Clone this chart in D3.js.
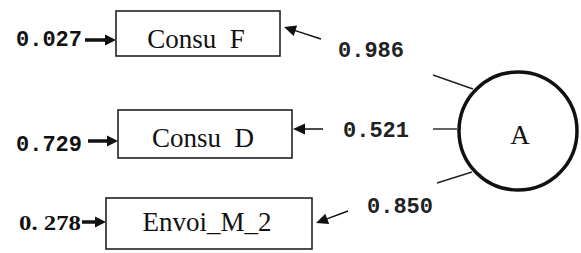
<!DOCTYPE html>
<html>
<head>
<meta charset="utf-8">
<script src="https://cdn.jsdelivr.net/npm/d3@7"></script>
<style>
  html, body { margin: 0; padding: 0; background: #fff; }
  svg { display: block; }
  .box-label { font-family: "Liberation Serif", serif; font-size: 27px; fill: #111; }
  .err { font-family: "Liberation Mono", monospace; font-weight: bold; font-size: 22px; fill: #111; }
  .err.serif { font-family: "Liberation Serif", serif; }
  .load { font-family: "Liberation Mono", monospace; font-weight: bold; font-size: 22px; fill: #222; }
</style>
</head>
<body>
<svg id="svg"></svg>
<script>
  // values
  var indicators = ["Consu\u2002F", "Consu\u2002D", "Envoi_M_2"];
  var errors = ["0.027", "0.729", "0.278"];
  var loadings = ["0.986", "0.521", "0.850"];
  var factor = "A";

  var W = 581, H = 253;
  var svg = d3.select("#svg").attr("width", W).attr("height", H);
  svg.append("rect").attr("width", W).attr("height", H).attr("fill", "#fff");

  // layout of the diagram (one entry per indicator)
  var layout = [
    { x: 116, y: 11, w: 164, h: 45, tb: 48, ey: 40, ex0: 85, eb: 46, etx: 16,
      ax0: 321, ay0: 39, ax1: 284, ay1: 27, lx: 338, lb: 57,
      c0: [433, 75], c1: [473, 89] },
    { x: 118, y: 110, w: 174, h: 48, tb: 147, ey: 141, ex0: 88, eb: 151, etx: 16,
      ax0: 323, ay0: 129, ax1: 293, ay1: 129, lx: 343, lb: 137,
      c0: [433, 129], c1: [457, 129] },
    { x: 106, y: 198, w: 206, h: 51, tb: 231, ey: 222, ex0: 82, eb: 230, etx: 19,
      ax0: 348, ay0: 211, ax1: 316, ay1: 223, lx: 367, lb: 213,
      c0: [437, 183], c1: [472, 172] }
  ];
  var circle = { cx: 518, cy: 131, r: 59 };

  var rows = d3.range(indicators.length);

  function arrow(g, x0, y0, x1, y1, sw, hl, hw) {
    var dx = x1 - x0, dy = y1 - y0, len = Math.sqrt(dx * dx + dy * dy);
    var ux = dx / len, uy = dy / len;
    var bx = x1 - ux * hl, by = y1 - uy * hl;
    g.append("line")
      .attr("x1", x0).attr("y1", y0).attr("x2", bx + ux * 1).attr("y2", by + uy * 1)
      .attr("stroke", "#111").attr("stroke-width", sw);
    g.append("path")
      .attr("d", "M" + x1 + "," + y1 +
        "L" + (bx - uy * hw) + "," + (by + ux * hw) +
        "L" + (bx + uy * hw) + "," + (by - ux * hw) + "Z")
      .attr("fill", "#111");
  }

  var g = svg.append("g");

  rows.forEach(function (i) {
    var L = layout[i];
    // indicator box
    g.append("rect")
      .attr("x", L.x).attr("y", L.y).attr("width", L.w).attr("height", L.h)
      .attr("fill", "#fff").attr("stroke", "#222").attr("stroke-width", 1.6);
    g.append("text").attr("class", "box-label")
      .attr("x", L.x + L.w / 2 - 2).attr("y", L.tb)
      .attr("text-anchor", "middle")
      .text(indicators[i]);

    // error term
    var et = g.append("text").attr("class", i === 2 ? "err serif" : "err")
      .attr("x", L.etx).attr("y", L.eb)
      .text(i === 2 ? errors[i].replace(".", ". ") : errors[i]);
    if (i === 2) et.attr("font-size", 21).attr("textLength", 62).attr("lengthAdjust", "spacingAndGlyphs");
    arrow(g, L.ex0, L.ey, L.x, L.ey, 3.5, 11, 5.5);

    // loading arrow and label
    arrow(g, L.ax0, L.ay0, L.ax1, L.ay1, 1.5, 12, 5.5);
    g.append("text").attr("class", "load")
      .attr("x", L.lx).attr("y", L.lb)
      .text(loadings[i]);

    // line leaving the factor
    g.append("line")
      .attr("x1", L.c0[0]).attr("y1", L.c0[1]).attr("x2", L.c1[0]).attr("y2", L.c1[1])
      .attr("stroke", "#222").attr("stroke-width", 1.4);
  });

  g.append("circle")
    .attr("cx", circle.cx).attr("cy", circle.cy).attr("r", circle.r)
    .attr("fill", "#fff").attr("stroke", "#111").attr("stroke-width", 3.5);
  g.append("text").attr("class", "box-label")
    .attr("x", circle.cx + 2).attr("y", 144)
    .attr("text-anchor", "middle").attr("font-size", 23)
    .text(factor);
</script>
</body>
</html>
